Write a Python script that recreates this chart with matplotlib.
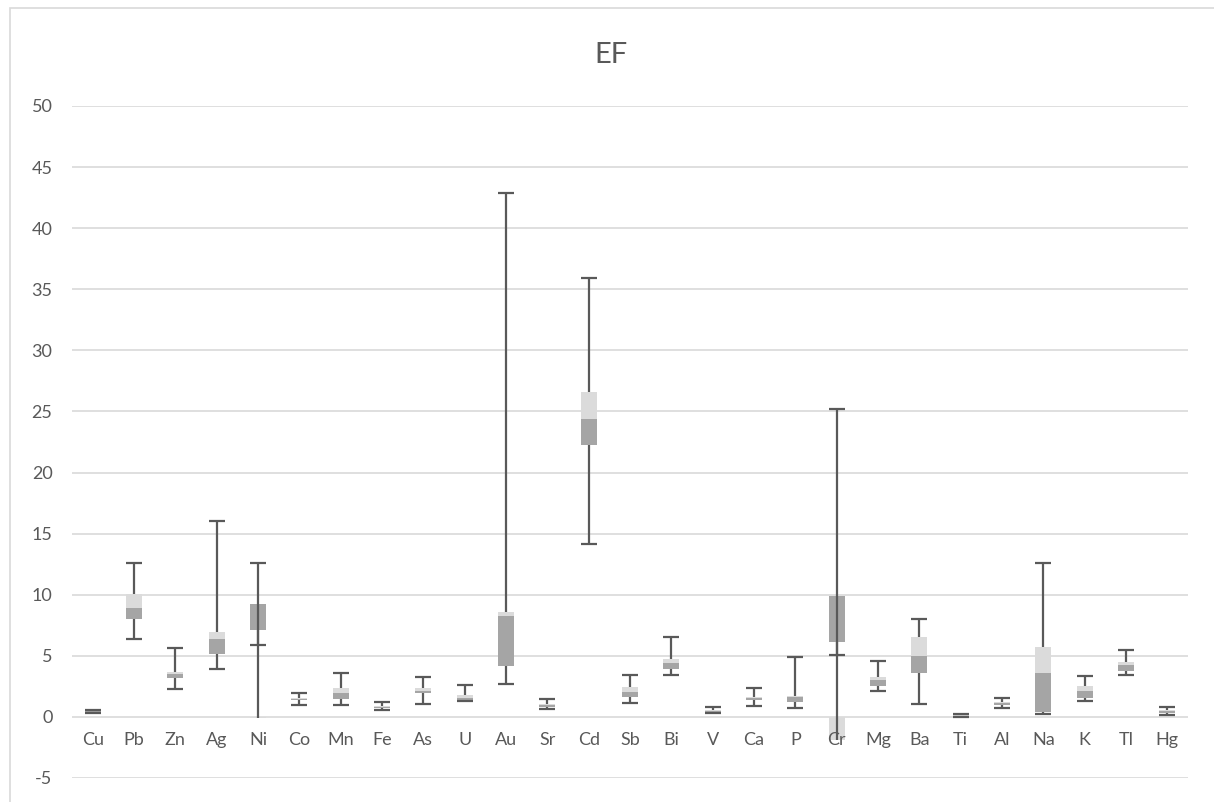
import numpy as np
import matplotlib.pyplot as plt
from matplotlib.patches import Rectangle

# EF values per element: whisker low, Q1, median, Q3, whisker high
elements = ["Cu", "Pb", "Zn", "Ag", "Ni", "Co", "Mn", "Fe", "As", "U", "Au", "Sr", "Cd",
            "Sb", "Bi", "V", "Ca", "P", "Cr", "Mg", "Ba", "Ti", "Al", "Na", "K", "Tl", "Hg"]
w_low = [0.30, 6.38, 2.29, 3.96, 5.87, 1.01, 1.01, 0.60, 1.09, 1.28, 2.72, 0.63, 14.16,
         1.15, 3.44, 0.30, 0.87, 0.71, 5.07, 2.15, 1.09, 0.03, 0.76, 0.22, 1.28, 3.44, 0.16]
q1 = [0.38, 8.00, 3.16, 5.13, 7.15, 1.36, 1.50, 0.76, 1.94, 1.39, 4.17, 0.85, 22.26,
      1.61, 3.96, 0.38, 1.36, 1.23, 6.14, 2.54, 3.63, 0.05, 0.98, 0.41, 1.53, 3.76, 0.30]
median = [0.45, 8.90, 3.49, 6.41, 9.22, 1.45, 1.96, 0.85, 2.15, 1.58, 8.29, 0.95, 24.39,
          2.05, 4.45, 0.45, 1.55, 1.65, 9.90, 3.03, 4.99, 0.10, 1.12, 3.60, 2.13, 4.23, 0.45]
q3 = [0.52, 10.04, 3.66, 6.96, 9.17, 1.55, 2.40, 0.93, 2.35, 1.80, 8.62, 1.06, 26.57,
      2.45, 4.75, 0.55, 1.66, 1.75, 8.02, 3.25, 6.57, 0.15, 1.25, 5.70, 2.56, 4.53, 0.57]
w_high = [0.55, 12.58, 5.67, 16.04, 12.58, 1.96, 3.60, 1.20, 3.27, 2.65, 42.85, 1.45, 35.92,
          3.46, 6.55, 0.82, 2.40, 4.94, 25.20, 4.61, 8.05, 0.27, 1.53, 12.63, 3.38, 5.48, 0.82]

lower = np.array(median) - np.array(q1)
upper = np.array(q3) - np.array(median)

plt.rcParams['font.family'] = ['Lato', 'DejaVu Sans']
plt.rcParams['axes.unicode_minus'] = False
fig = plt.figure(figsize=(12.14, 8.02), dpi=100)
ax = fig.add_axes([72 / 1214, 24 / 802, 1116 / 1214, 672 / 802])

x = np.arange(len(q1))
dark = '#A5A5A5'
light = '#DBDBDB'
wcol = '#595959'
bw = 0.38

# excel-like stacking: positive values stack up, negative ones start from 0
ax.bar(x, lower, bottom=q1, width=bw, color=dark, zorder=2)
up_bottom = np.where(upper >= 0, np.array(median), 0)
ax.bar(x, upper, bottom=up_bottom, width=bw, color=light, zorder=2)
up_end = up_bottom + upper

# whiskers: minus from Q1 to low, plus from end of upper bar to high, cap only at far end
ax.vlines(x, w_low, q1, color=wcol, linewidth=1.6, zorder=3)
ax.vlines(x, up_end, w_high, color=wcol, linewidth=1.6, zorder=3)
ax.hlines(w_low, x - bw / 2, x + bw / 2, color=wcol, linewidth=1.6, zorder=3)
ax.hlines(w_high, x - bw / 2, x + bw / 2, color=wcol, linewidth=1.6, zorder=3)

ax.set_ylim(-5, 50)
ax.set_xlim(-0.5, len(x) - 0.5)
ax.set_yticks(np.arange(-5, 51, 5))
ax.tick_params(axis='y', length=0, labelsize=13, colors='#595959', pad=14)
ax.set_xticks([])
ax.grid(axis='y', color='#D9D9D9', linewidth=1.2, zorder=0)
ax.set_axisbelow(True)
for s in ax.spines.values():
    s.set_visible(False)

for i, name in enumerate(elements):
    ax.text(i, -1.9, name, ha='center', va='center', fontsize=13, color='#595959', zorder=4)

fig.text(0.503, 0.932, "EF", ha='center', va='center', fontsize=21, color='#595959')
fig.patches.append(Rectangle((10 / 1214, -0.01), 1.1, 794 / 802 + 0.01,
                             transform=fig.transFigure, fill=False,
                             edgecolor='#D9D9D9', linewidth=1.2))

plt.savefig("out.png", dpi=100)
plt.close()
